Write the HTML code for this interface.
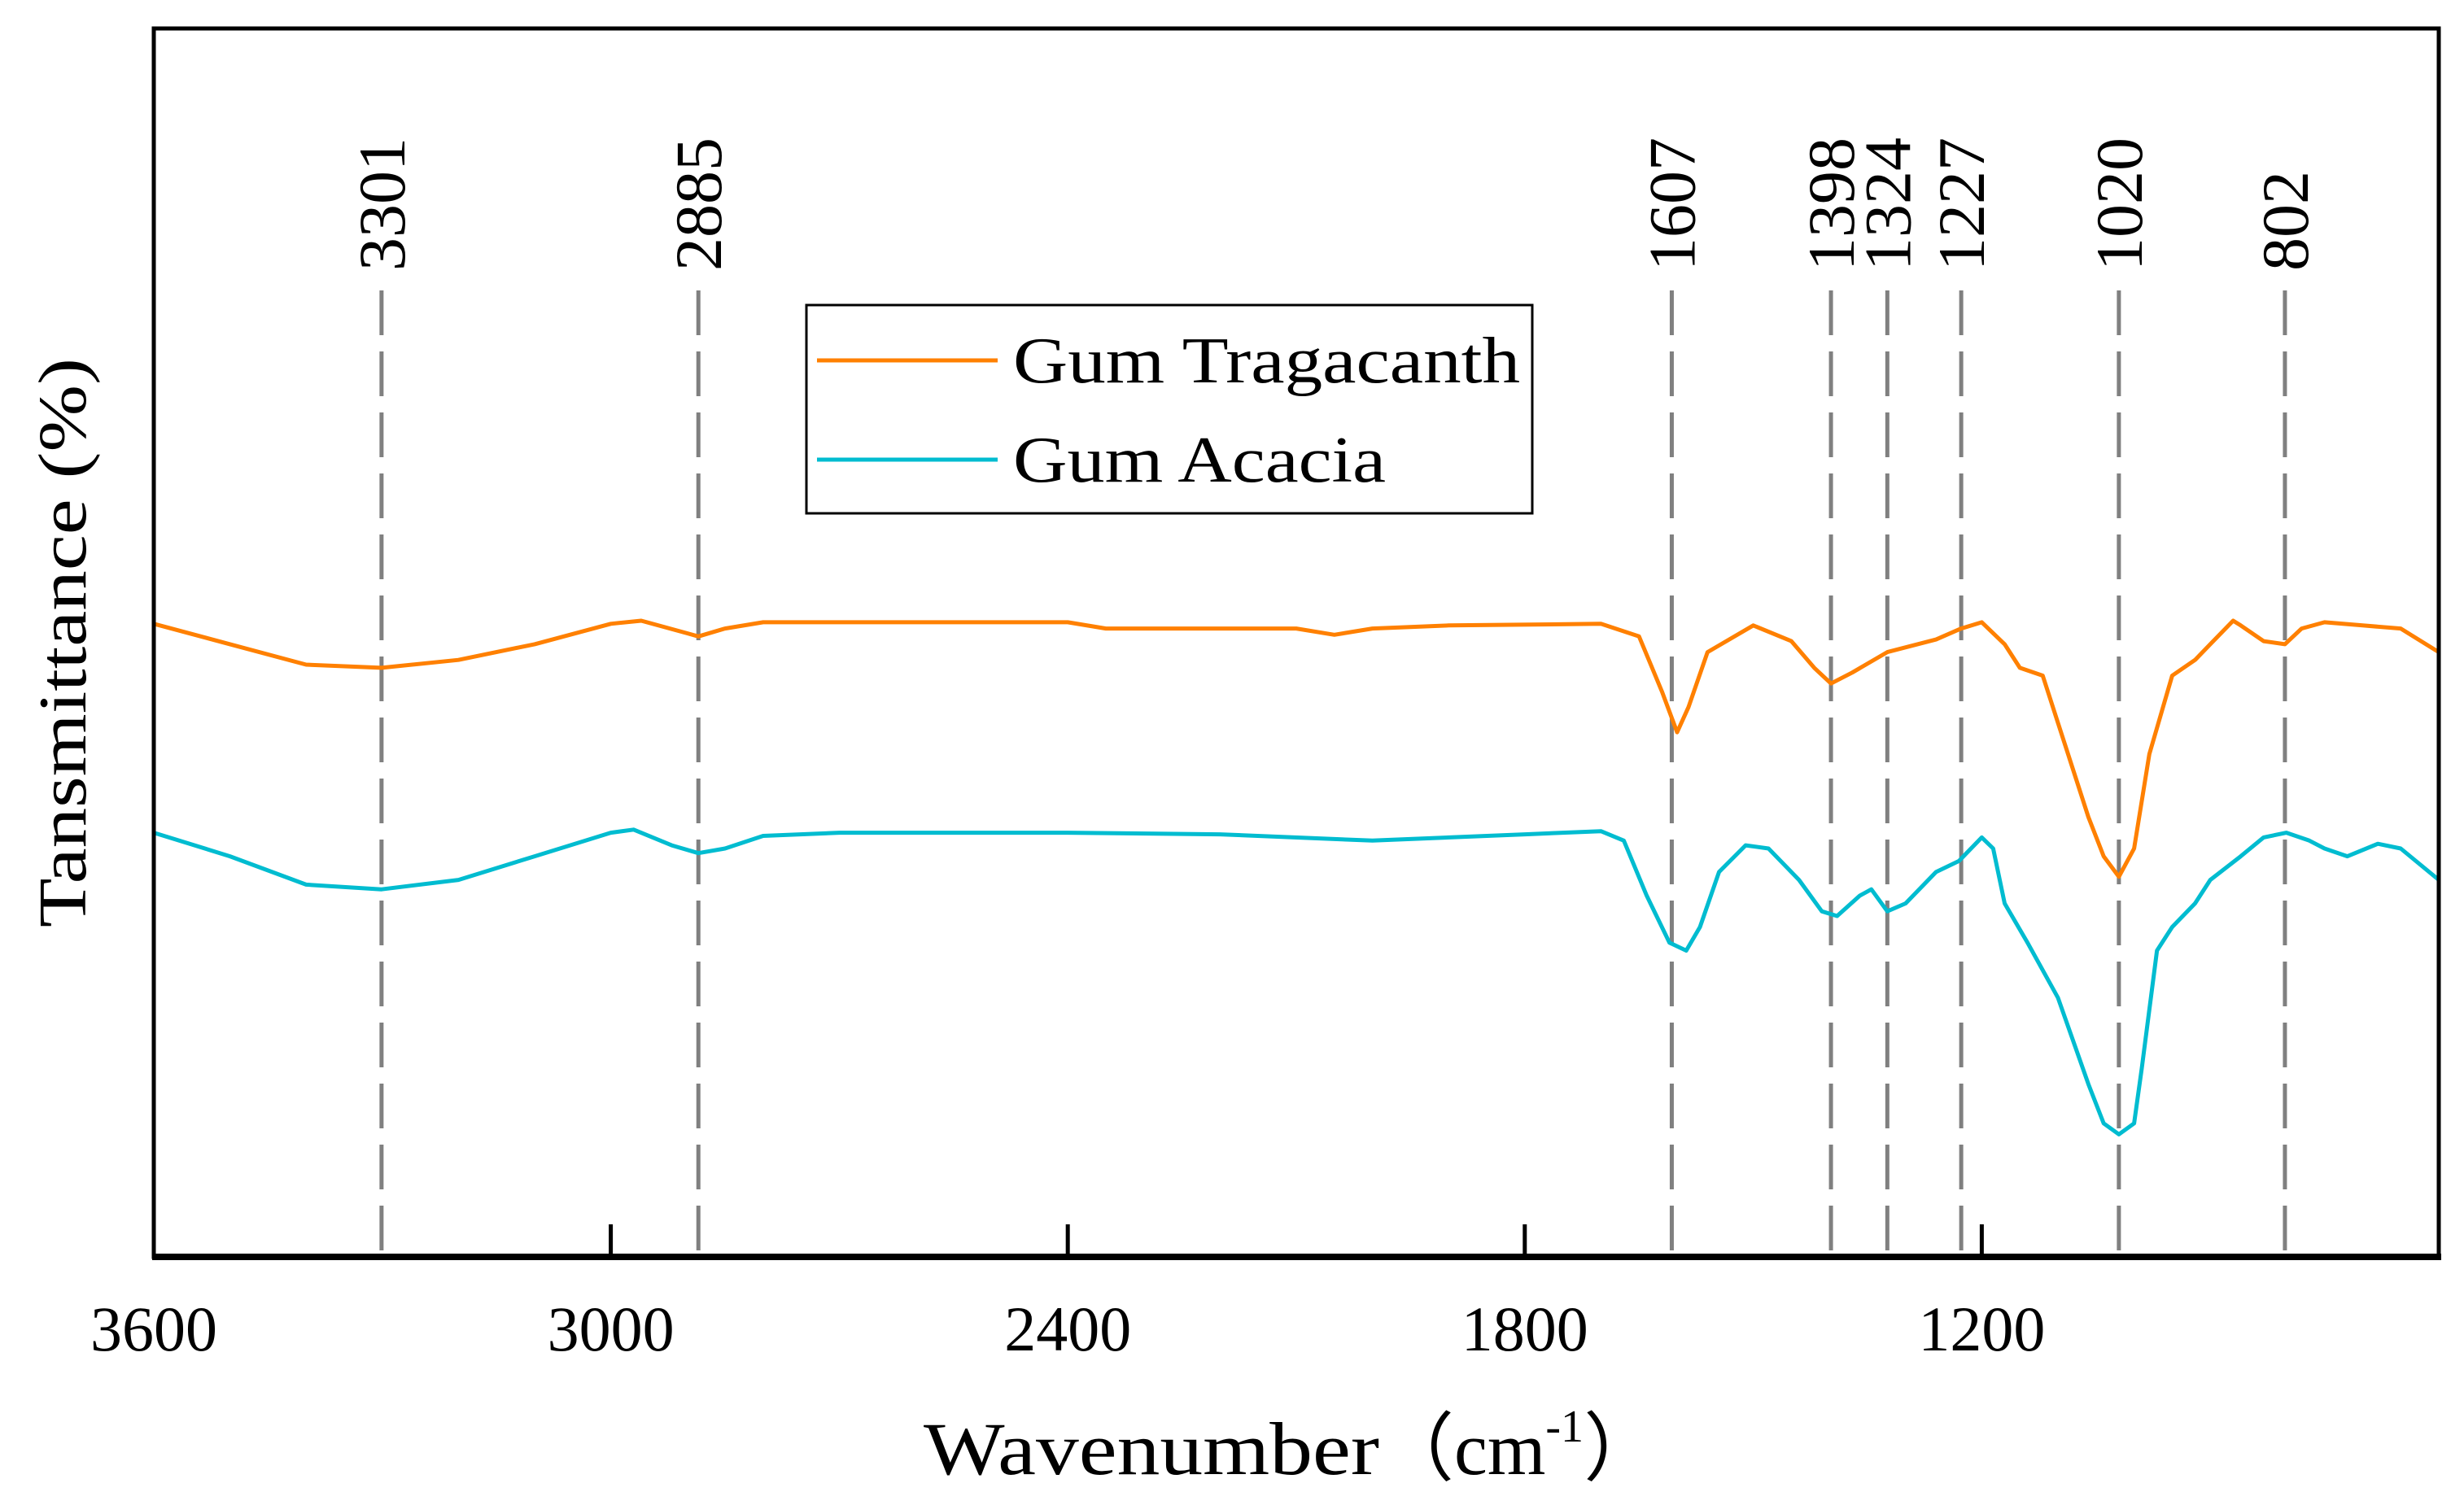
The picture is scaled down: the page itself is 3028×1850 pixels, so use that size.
<!DOCTYPE html>
<html><head><meta charset="utf-8"><style>
html,body{margin:0;padding:0;background:#fff;}
svg{display:block;font-family:"Liberation Serif",serif;}
</style></head><body>
<svg id="chart" width="3028" height="1850" viewBox="0 0 3028 1850">
<g id="grid"></g><g id="series"></g><g id="axes"></g>
<g>
<rect x="991" y="375" width="892" height="256" fill="#fff" stroke="#000" stroke-width="3"/>
<line x1="1004" y1="443" x2="1226" y2="443" stroke="#ff8000" stroke-width="5"/>
<text x="1245" y="470" font-size="80" textLength="623" lengthAdjust="spacingAndGlyphs" fill="#000">Gum Tragacanth</text>
<line x1="1004" y1="565" x2="1226" y2="565" stroke="#00bcd0" stroke-width="5"/>
<text x="1245" y="592" font-size="80" textLength="458" lengthAdjust="spacingAndGlyphs" fill="#000">Gum Acacia</text>
</g>
<text x="1135" y="1812" font-size="92" fill="#000"><tspan textLength="560" lengthAdjust="spacingAndGlyphs">Wavenumber</tspan><tspan>（cm</tspan><tspan font-size="56" dy="-40">-1</tspan><tspan dy="40">）</tspan></text>
<text transform="translate(105,790) rotate(-90)" font-size="84" text-anchor="middle" textLength="700" lengthAdjust="spacingAndGlyphs" fill="#000">Tansmittance (%)</text>
</svg>
<script>
const tickValues=[3600,3000,2400,1800,1200];
const peakValues=[3301,2885,1607,1398,1324,1227,1020,802];
const wnTrag=[3600,3500,3400,3301,3200,3100,3000,2960,2900,2885,2850,2800,2700,2500,2400,2350,2200,2100,2050,2000,1900,1700,1650,1620,1600,1585,1560,1500,1450,1420,1398,1370,1324,1260,1227,1200,1170,1150,1120,1100,1060,1040,1020,1000,980,950,920,900,870,860,830,802,780,750,700,650,600];
const tTrag=[403,390,377,375,380,390,403,405,397,395,400,404,404,404,404,400,400,400,396,400,402,403,395,360,334,350,385,402,392,375,365,372,385,393,400,404,390,375,370,340,280,255,242,260,320,370,380,390,405,402,392,390,400,404,402,400,385];
const wnAcac=[3600,3500,3400,3301,3200,3100,3000,2970,2920,2885,2850,2800,2700,2400,2200,2000,1800,1700,1670,1640,1610,1588,1570,1545,1510,1480,1440,1410,1390,1360,1345,1324,1300,1260,1230,1200,1185,1170,1140,1100,1060,1040,1020,1000,990,970,950,920,900,860,830,800,770,750,720,680,650,600];
const tAcac=[270,255,237,234,240,255,270,272,262,257,260,268,270,270,269,265,269,271,265,230,200,195,210,245,262,260,240,220,217,230,234,220,225,245,252,267,260,225,200,165,110,85,78,85,120,195,210,225,240,255,267,270,265,260,255,263,260,240];
const NS='http://www.w3.org/2000/svg';
const L=189,R=2997,T=35,B=1545;
const xS=w=>L+(3600-w)*(R-L)/3000;
const yS=v=>B-v*(B-T)/782;
function mk(tag,attrs,parent){const e=document.createElementNS(NS,tag);for(const k in attrs)e.setAttribute(k,attrs[k]);parent.appendChild(e);return e;}
const grid=document.getElementById('grid'),series=document.getElementById('series'),axes=document.getElementById('axes');
peakValues.forEach(p=>{
  const x=xS(p);
  const ln=mk('line',{x1:x,y1:357,x2:x,y2:B,stroke:'#808080','stroke-width':5,'stroke-dasharray':'55 20'},grid);
  
  
  const tx=mk('text',{transform:`translate(${x+28},333) rotate(-90)`,'font-size':82,fill:'#000'},grid);
  tx.textContent=p;
  
  
});
function drawSeries(wn,tv,color,name){
  const pts=wn.map((w,i)=>xS(w).toFixed(1)+','+yS(tv[i]).toFixed(1)).join(' ');
  const pl=mk('polyline',{points:pts,fill:'none',stroke:color,'stroke-width':5,'stroke-linejoin':'round'},series);
  
  
}
drawSeries(wnTrag,tTrag,'#ff8000','gum-tragacanth-line');
drawSeries(wnAcac,tAcac,'#00bcd0','gum-acacia-line');
const frame=mk('rect',{x:L,y:T,width:R-L,height:B-T,fill:'none',stroke:'#000','stroke-width':5},axes);


const xa=mk('line',{x1:L-2,y1:B,x2:R+3,y2:B,stroke:'#000','stroke-width':8},axes);


tickValues.forEach(t=>{
  const x=xS(t);
  const tk=mk('line',{x1:x,y1:B,x2:x,y2:B-40,stroke:'#000','stroke-width':5},axes);
  
  
  const lb=mk('text',{x:x,y:1660,'font-size':78,'text-anchor':'middle',fill:'#000'},axes);
  lb.textContent=t;
  
  
});
</script>
</body></html>
